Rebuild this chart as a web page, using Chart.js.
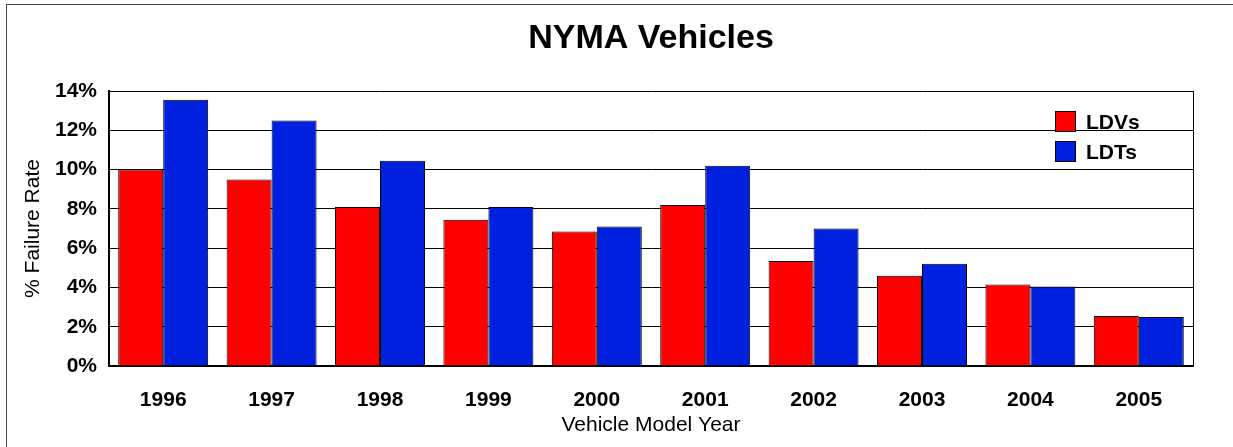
<!DOCTYPE html>
<html lang="en">
<head>
    <meta charset="UTF-8">
    <title>NYMA Vehicles</title>
    <script src="https://cdn.jsdelivr.net/npm/chart.js"></script>
    <style>
        body {
            margin: 0;
            background-color: white;
            font-family: "Liberation Sans", Arial, sans-serif;
        }
        #wrap {
            position: relative;
            width: 1233px;
            height: 447px;
        }
        #frame {
            position: absolute;
            left: 6px;
            top: 4px;
            right: 0;
            bottom: 0;
            border-left: 1px solid #444;
            border-top: 1px solid #444;
            pointer-events: none;
        }
    </style>
</head>
<body>
    <div id="wrap">
        <canvas id="chart" width="1233" height="447"></canvas>
        <div id="frame"></div>
    </div>

    <script>
        // Data (% failure rate)
        const years = ['1996', '1997', '1998', '1999', '2000', '2001', '2002', '2003', '2004', '2005'];
        const ldvRates = [10.0, 9.5, 8.1, 7.45, 6.85, 8.2, 5.35, 4.6, 4.15, 2.55];
        const ldtRates = [13.55, 12.5, 10.45, 8.1, 7.1, 10.2, 7.0, 5.2, 4.05, 2.5];
        const yTicks = [0, 2, 4, 6, 8, 10, 12, 14];
        const chartTitle = 'NYMA Vehicles';

        const FONT = '"Liberation Sans", Arial, sans-serif';

        // Title centred over the plot, legend inside the plot (top right)
        const decorations = {
            id: 'decorations',
            afterDraw(chart) {
                const ctx = chart.ctx;
                const area = chart.chartArea;
                ctx.save();

                ctx.fillStyle = '#000';
                ctx.font = 'bold 34px ' + FONT;
                ctx.textAlign = 'center';
                ctx.textBaseline = 'middle';
                ctx.fillText(chartTitle, (area.left + area.right) / 2, 39);

                // right border of the plot area
                ctx.strokeStyle = '#000';
                ctx.lineWidth = 1;
                ctx.beginPath();
                ctx.moveTo(area.right + 0.5, area.top);
                ctx.lineTo(area.right + 0.5, area.bottom);
                ctx.stroke();

                ctx.font = 'bold 21px ' + FONT;
                ctx.textAlign = 'left';
                chart.data.datasets.forEach(function(ds, i) {
                    const x = area.right - 138;
                    const y = area.top + 20 + i * 30;
                    ctx.fillStyle = ds.backgroundColor;
                    ctx.fillRect(x, y, 20, 20);
                    ctx.strokeStyle = '#000';
                    ctx.strokeRect(x + 0.5, y + 0.5, 20, 20);
                    ctx.fillStyle = '#000';
                    ctx.fillText(ds.label, x + 31, y + 12);
                });
                ctx.restore();
            }
        };

        const ctx = document.getElementById('chart').getContext('2d');
        new Chart(ctx, {
            type: 'bar',
            data: {
                labels: years,
                datasets: [
                    {
                        label: 'LDVs',
                        data: ldvRates,
                        backgroundColor: '#ff0000',
                        borderColor: '#000',
                        borderWidth: 1
                    },
                    {
                        label: 'LDTs',
                        data: ldtRates,
                        backgroundColor: '#0020e0',
                        borderColor: '#000',
                        borderWidth: 1
                    }
                ]
            },
            options: {
                responsive: false,
                animation: false,
                layout: {
                    padding: { left: 0, right: 40, top: 91, bottom: 0 }
                },
                datasets: {
                    bar: {
                        categoryPercentage: 0.83,
                        barPercentage: 1.0
                    }
                },
                plugins: {
                    legend: { display: false },
                    tooltip: { enabled: false },
                    title: { display: false }
                },
                scales: {
                    x: {
                        grid: { display: false },
                        border: { display: true, color: '#000', width: 2 },
                        ticks: {
                            color: '#000',
                            padding: 14,
                            font: { family: FONT, size: 21, weight: 'bold' }
                        },
                        title: {
                            display: true,
                            text: 'Vehicle Model Year',
                            color: '#000',
                            font: { family: FONT, size: 21 },
                            padding: { top: 0, bottom: 9 }
                        },
                        afterFit(scale) { scale.height = 81; }
                    },
                    y: {
                        min: 0,
                        max: 14,
                        afterBuildTicks(scale) {
                            scale.ticks = yTicks.map(v => ({ value: v }));
                        },
                        grid: { color: '#000', lineWidth: 1, drawTicks: false },
                        border: { display: true, color: '#000', width: 2 },
                        ticks: {
                            color: '#000',
                            padding: 12,
                            font: { family: FONT, size: 21, weight: 'bold' },
                            callback: v => v + '%'
                        },
                        title: {
                            display: true,
                            text: '% Failure Rate',
                            color: '#000',
                            font: { family: FONT, size: 21 },
                            padding: { top: 21, bottom: 0 }
                        },
                        afterFit(scale) { scale.width = 109; }
                    }
                }
            },
            plugins: [decorations]
        });
    </script>
</body>
</html>
